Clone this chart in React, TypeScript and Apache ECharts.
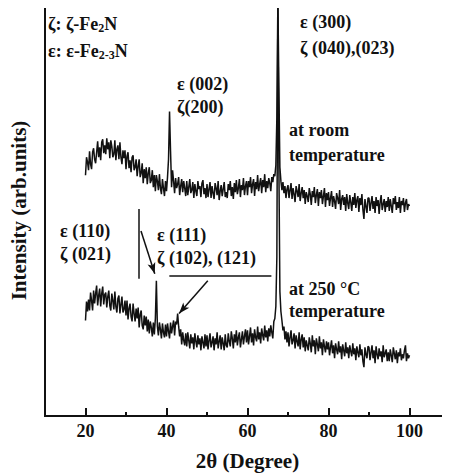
import React, { useEffect, useRef } from "react";
import * as echarts from "echarts";

// 2θ sampling grid of the diffractograms
const TWO_THETA_START = 20;
const TWO_THETA_STEP = 0.25;

// Intensity (arb. units), sample at room temperature (upper trace)
const roomTempIntensity = [
  242, 260, 255, 247, 266, 253, 248, 265, 269, 258, 254, 265, 276, 260, 270, 257, 275, 278, 264, 272,
  263, 279, 268, 275, 259, 277, 271, 260, 263, 277, 257, 268, 272, 258, 275, 260, 253, 267, 259, 267,
  248, 261, 265, 249, 257, 245, 260, 262, 247, 250, 258, 241, 251, 258, 240, 244, 254, 234, 248, 239,
  250, 233, 244, 250, 234, 237, 247, 230, 242, 226, 242, 236, 227, 243, 229, 223, 238, 229, 221, 236,
  226, 240, 258, 306, 266, 230, 247, 236, 224, 239, 229, 233, 240, 222, 231, 238, 225, 236, 229, 221,
  236, 222, 230, 238, 224, 227, 235, 219, 233, 226, 221, 236, 228, 231, 220, 234, 237, 223, 229, 219,
  233, 220, 228, 235, 219, 231, 224, 218, 234, 229, 222, 236, 217, 226, 232, 221, 228, 235, 220, 225,
  219, 233, 227, 236, 221, 230, 218, 234, 225, 237, 223, 229, 238, 220, 232, 227, 239, 222, 231, 236,
  222, 236, 230, 240, 224, 233, 238, 221, 235, 228, 242, 226, 233, 239, 224, 237, 230, 243, 225, 236,
  229, 239, 234, 226, 240, 235, 243, 241, 252, 300, 420, 330, 250, 236, 227, 235, 224, 231, 219, 228,
  232, 219, 227, 234, 218, 229, 223, 215, 231, 226, 220, 233, 216, 224, 230, 219, 227, 213, 225, 221,
  215, 229, 223, 212, 226, 220, 230, 214, 222, 228, 211, 225, 219, 227, 213, 221, 229, 210, 224, 217,
  225, 211, 219, 226, 210, 221, 216, 208, 224, 219, 213, 227, 207, 218, 222, 212, 220, 206, 223, 214,
  208, 222, 215, 206, 220, 212, 224, 209, 217, 221, 205, 219, 212, 223, 207, 198, 218, 211, 204, 219,
  219, 206, 214, 221, 208, 216, 204, 220, 211, 217, 203, 215, 222, 207, 213, 218, 205, 216, 210, 220,
  206, 218, 211, 204, 219, 213, 221, 207, 215, 209, 220, 204, 216, 212, 219, 205, 214, 218, 207, 213,
  211,
];

// Intensity (arb. units), sample at 250 °C (lower trace)
const heatedIntensity = [
  96, 115, 105, 117, 106, 124, 116, 106, 126, 113, 123, 131, 111, 121, 128, 110, 123, 130, 112, 122,
  124, 109, 120, 126, 111, 106, 123, 116, 107, 125, 110, 104, 118, 121, 103, 112, 120, 104, 107, 116,
  101, 116, 97, 108, 113, 100, 95, 113, 103, 95, 108, 98, 109, 89, 102, 106, 91, 87, 101, 91,
  100, 85, 97, 83, 95, 89, 80, 94, 82, 98, 136, 90, 81, 94, 87, 78, 93, 84, 79, 92,
  80, 93, 85, 78, 94, 83, 90, 96, 81, 95, 92, 103, 90, 80, 87, 72, 84, 76, 71, 83,
  70, 84, 76, 68, 82, 73, 79, 67, 83, 75, 69, 81, 72, 78, 66, 80, 74, 68, 82, 70,
  81, 67, 76, 83, 69, 74, 80, 66, 78, 72, 84, 68, 75, 81, 67, 79, 73, 66, 82, 71,
  69, 83, 75, 70, 85, 78, 68, 82, 74, 86, 71, 79, 84, 69, 77, 85, 72, 80, 87, 74,
  86, 72, 80, 89, 74, 83, 71, 87, 79, 75, 90, 77, 84, 73, 88, 81, 76, 91, 79, 86,
  75, 88, 80, 91, 84, 78, 95, 98, 110, 160, 420, 250, 125, 105, 96, 86, 90, 77, 85, 74,
  84, 70, 79, 86, 72, 76, 83, 68, 81, 75, 70, 84, 67, 77, 82, 69, 79, 65, 76, 71,
  66, 79, 73, 64, 81, 70, 76, 62, 78, 72, 65, 80, 68, 74, 61, 77, 70, 64, 75, 67,
  74, 61, 69, 76, 63, 71, 58, 73, 67, 62, 75, 64, 70, 57, 72, 66, 60, 74, 63, 69,
  58, 71, 65, 60, 73, 62, 68, 56, 70, 64, 59, 72, 61, 67, 55, 49, 69, 62, 58, 70,
  69, 56, 64, 71, 58, 66, 53, 70, 62, 57, 68, 60, 65, 54, 71, 59, 63, 67, 55, 64,
  55, 67, 61, 54, 69, 63, 57, 66, 53, 64, 60, 68, 56, 62, 58, 66, 71, 55, 63, 58,
  61,
];

const xTickValues = [20, 40, 60, 80, 100];
const xMinorTickValues = [30, 50, 70, 90];

// Leader lines / arrows for peak labels, in data coordinates [2θ, intensity]
const annotationLines = [
  { from: [33.2, 208], to: [33.2, 138], arrow: false },
  { from: [33.7, 186], to: [37.1, 143], arrow: true },
  { from: [40.7, 141], to: [65.9, 141], arrow: false },
  { from: [50.2, 136], to: [43.1, 103], arrow: true },
];

const FONT = "'Liberation Serif', 'Times New Roman', serif";
const INK = "#111111";
const ANNOT_SIZE = 18;

function toPairs(values: number[]) {
  return values.map((v, i) => [TWO_THETA_START + i * TWO_THETA_STEP, v]);
}

function label(x: number, y: number, text: string) {
  return {
    type: "text",
    x,
    y,
    silent: true,
    style: {
      text,
      fill: INK,
      fontFamily: FONT,
      fontWeight: "bold",
      fontSize: ANNOT_SIZE,
      verticalAlign: "middle",
      align: "left",
    },
  };
}

function richLabel(x: number, y: number, text: string) {
  return {
    type: "text",
    x,
    y,
    silent: true,
    style: {
      text,
      fill: INK,
      fontFamily: FONT,
      fontWeight: "bold",
      fontSize: ANNOT_SIZE,
      verticalAlign: "middle",
      align: "left",
      rich: {
        n: { fontSize: ANNOT_SIZE, fontWeight: "bold", fontFamily: FONT, fill: INK, lineHeight: 20, verticalAlign: "middle" },
        s: { fontSize: 12, fontWeight: "bold", fontFamily: FONT, fill: INK, lineHeight: 12, verticalAlign: "bottom" },
      },
    },
  };
}

export default function App() {
  const ref = useRef<HTMLDivElement>(null);

  useEffect(() => {
    if (!ref.current) return;
    const chart = echarts.init(ref.current, undefined, { renderer: "svg" });

    const markData = annotationLines.map((l) => [
      { coord: l.from, symbol: "none" },
      { coord: l.to, symbol: l.arrow ? "arrow" : "none", symbolSize: [6, 11] },
    ]);

    const option: any = {
      animation: false,
      grid: {
        left: 41,
        top: 5,
        right: -4,
        bottom: 58,
        show: true,
        borderColor: INK,
        borderWidth: 2,
        backgroundColor: "transparent",
      },
      xAxis: [
        {
          type: "value",
          min: 10,
          max: 110,
          position: "bottom",
          axisLine: { show: false },
          splitLine: { show: false },
          axisTick: {
            show: true,
            inside: true,
            length: 8,
            customValues: xTickValues,
            lineStyle: { color: INK, width: 2 },
          },
          axisLabel: {
            customValues: xTickValues,
            color: INK,
            fontFamily: FONT,
            fontWeight: "bold",
            fontSize: 18,
            margin: 6,
          },
          name: "2θ (Degree)",
          nameLocation: "middle",
          nameGap: 34,
          nameTextStyle: { color: INK, fontFamily: FONT, fontWeight: "bold", fontSize: 21 },
        },
        {
          type: "value",
          min: 10,
          max: 110,
          position: "bottom",
          axisLine: { show: false },
          splitLine: { show: false },
          axisLabel: { show: false },
          axisTick: {
            show: true,
            inside: true,
            length: 4,
            customValues: xMinorTickValues,
            lineStyle: { color: INK, width: 2 },
          },
        },
      ],
      yAxis: {
        type: "value",
        min: 0,
        max: 413,
        axisLine: { show: false },
        axisTick: { show: false },
        axisLabel: { show: false },
        splitLine: { show: false },
        name: "Intensity (arb.units)",
        nameLocation: "middle",
        nameRotate: 90,
        nameGap: 16,
        nameTextStyle: { color: INK, fontFamily: FONT, fontWeight: "bold", fontSize: 21 },
      },
      series: [
        {
          name: "at room temperature",
          type: "line",
          data: toPairs(roomTempIntensity),
          symbol: "none",
          lineStyle: { color: INK, width: 1.5 },
          silent: true,
        },
        {
          name: "at 250 °C temperature",
          type: "line",
          data: toPairs(heatedIntensity),
          symbol: "none",
          lineStyle: { color: INK, width: 1.5 },
          silent: true,
          markLine: {
            silent: true,
            symbol: ["none", "none"],
            label: { show: false },
            lineStyle: { color: INK, width: 1.5, type: "solid" },
            emphasis: { disabled: true },
            data: markData,
          },
        },
      ],
      graphic: [
        richLabel(48, 24, "{n|ζ: ζ-Fe}{s|2}{n|N}"),
        richLabel(48, 51, "{n|ε: ε-Fe}{s|2-3}{n|N}"),
        label(300, 22, "ε (300)"),
        label(300, 48, "ζ (040),(023)"),
        label(177, 84, "ε (002)"),
        label(177, 107, "ζ(200)"),
        label(289, 130, "at room"),
        label(289, 155, "temperature"),
        label(60, 231, "ε (110)"),
        label(60, 254, "ζ (021)"),
        label(157, 235, "ε (111)"),
        label(157, 258, "ζ (102), (121)"),
        label(289, 289, "at 250 °C"),
        label(289, 311, "temperature"),
      ],
    };

    chart.setOption(option);
    return () => chart.dispose();
  }, []);

  return <div ref={ref} style={{ width: 450, height: 476, marginLeft: -8, marginTop: -8 }} />;
}
